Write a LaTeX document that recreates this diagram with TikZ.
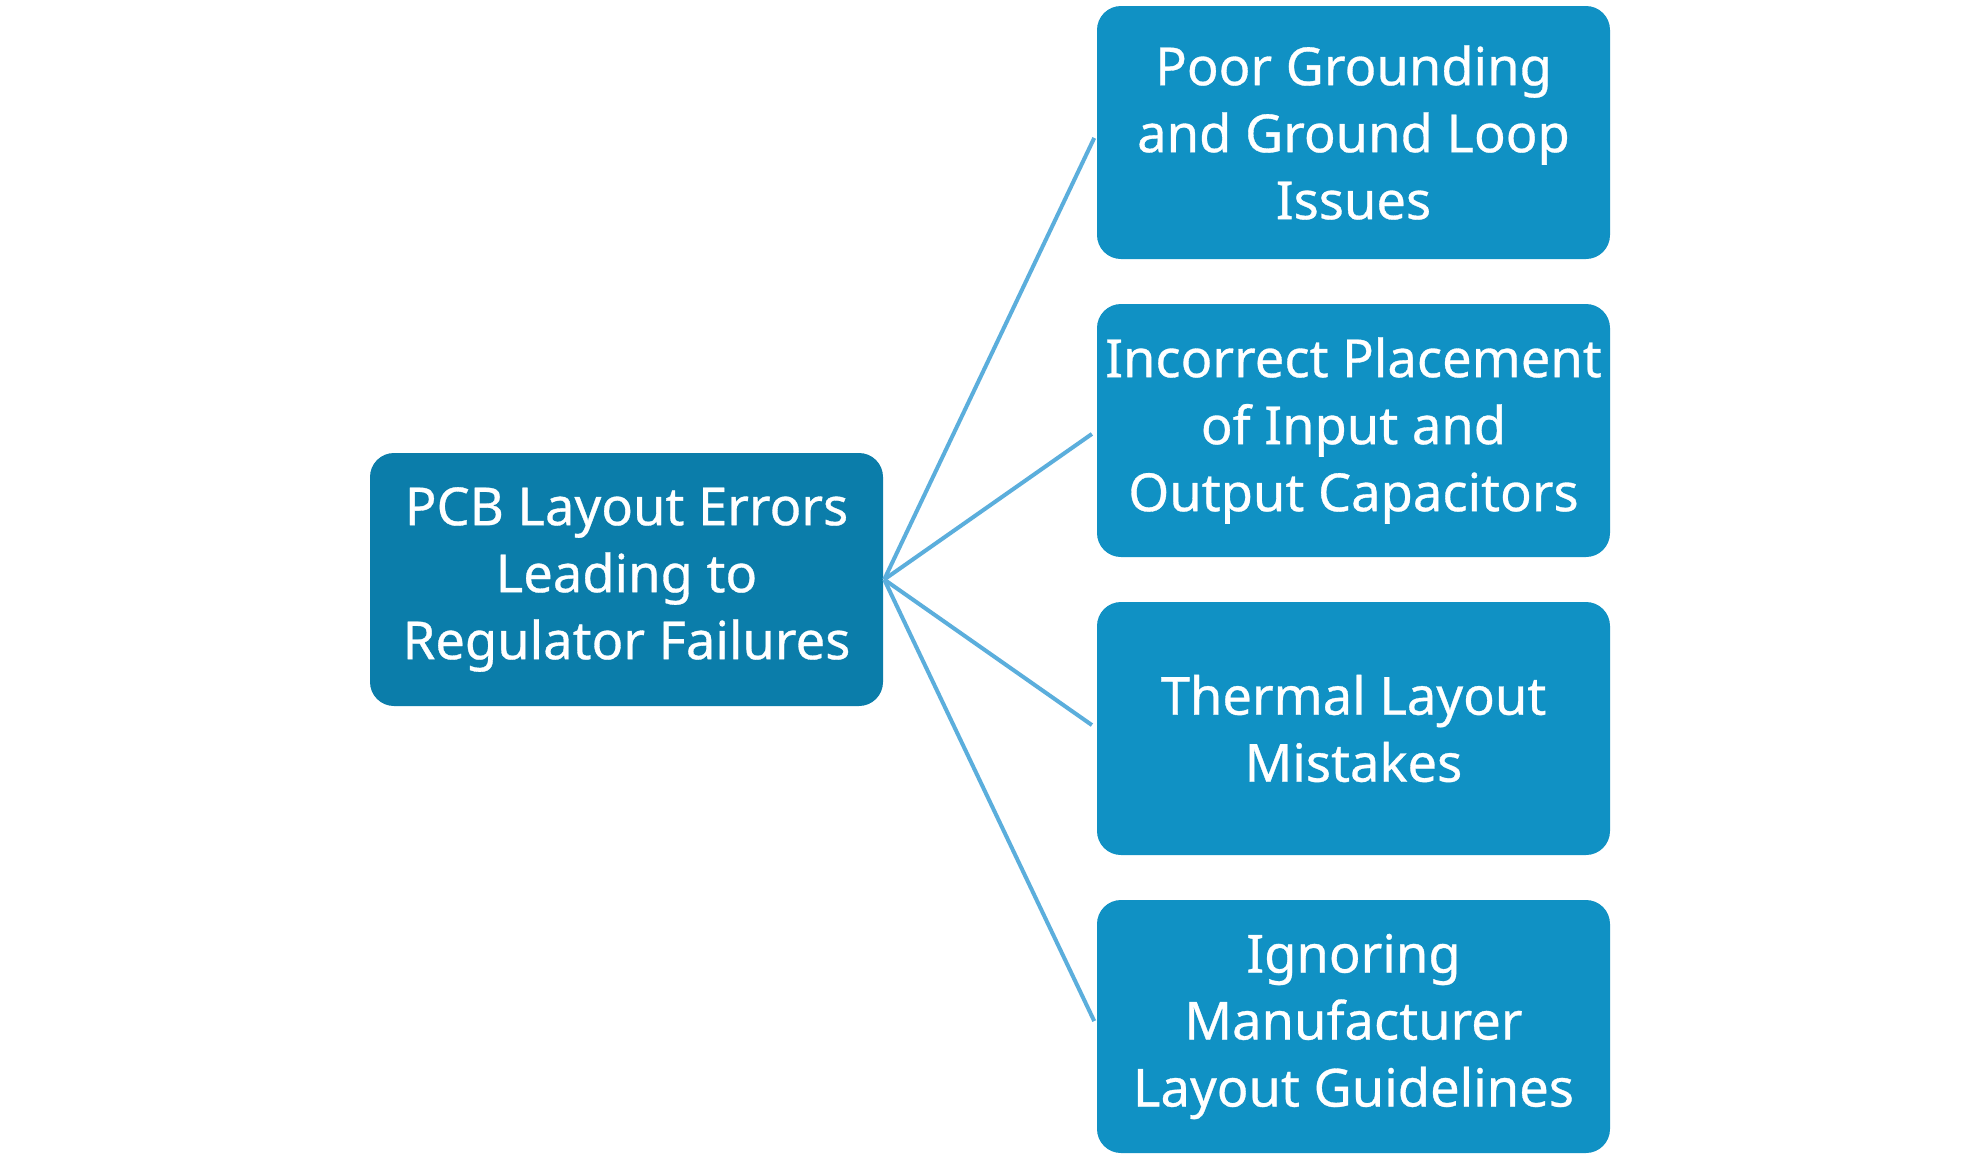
\documentclass[tikz,border=0pt]{standalone}
\usepackage{fontspec}
\setmainfont{Noto Sans}
\newfontfamily\boxfont{Noto Sans}[FakeBold=0.6]
\definecolor{rootblue}{HTML}{0B7DAA}
\definecolor{leafblue}{HTML}{1091C4}
\definecolor{linkblue}{HTML}{5BAEDC}
\begin{document}
\begin{tikzpicture}[x=1pt,y=-1pt,
  box/.style={rectangle, rounded corners=24pt, minimum width=513pt, minimum height=253pt,
    inner sep=0pt, align=center, text=white, font=\boxfont\fontsize{52.5}{67}\selectfont},
  rootbox/.style={box, fill=rootblue},
  leafbox/.style={box, fill=leafblue},
  link/.style={draw=linkblue, line width=4pt, shorten >=6pt}]
\useasboundingbox (0,0) rectangle (1980,1168);
\fill[white] (0,0) rectangle (1980,1168);
\node[rootbox] (root) at (626.5,579.5) {PCB Layout Errors\\Leading to\\Regulator Failures};
\node[leafbox] (a) at (1353.5,132.5) {Poor Grounding\\and Ground Loop\\Issues};
\node[leafbox] (b) at (1353.5,430.5) {Incorrect Placement\\of Input and\\Output Capacitors};
\node[leafbox] (c) at (1353.5,728.5) {Thermal Layout\\Mistakes};
\node[leafbox] (d) at (1353.5,1026.5) {Ignoring\\Manufacturer\\Layout Guidelines};
\coordinate (hub) at ([xshift=1pt]root.east);
\foreach \t in {a,b,c,d}{\draw[link] (hub) -- (\t.west);}
\end{tikzpicture}
\end{document}
